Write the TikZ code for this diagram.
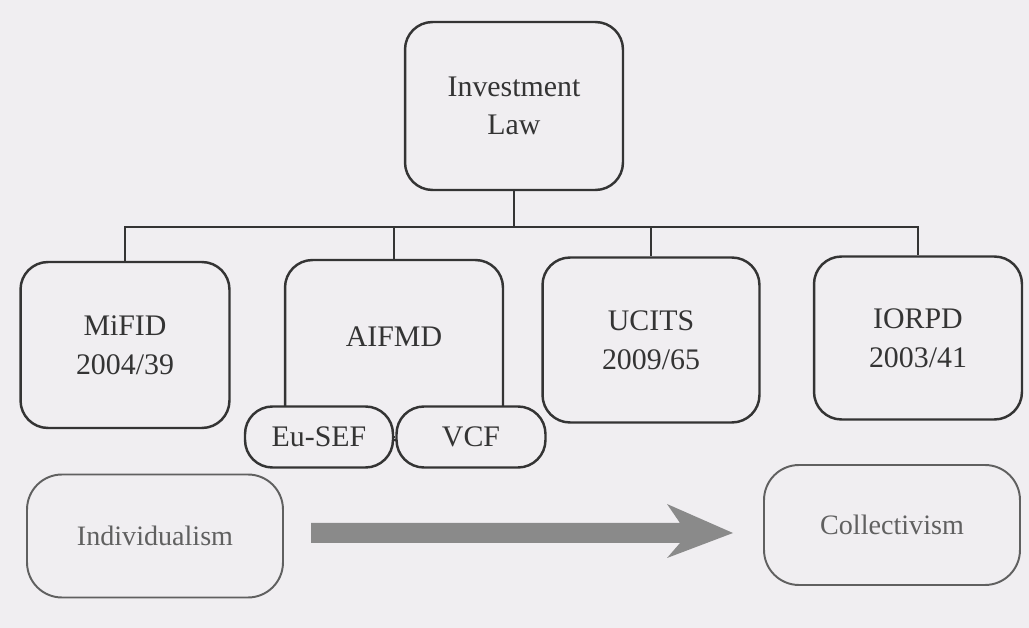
\documentclass[tikz,border=0pt]{standalone}
\usepackage{fontspec}
\setmainfont{Liberation Serif}
\usetikzlibrary{arrows.meta}
\definecolor{paper}{RGB}{240,238,241}
\definecolor{ink}{RGB}{52,52,52}
\definecolor{pale}{RGB}{96,96,96}
\definecolor{shaft}{RGB}{138,138,138}
\tikzset{
  law/.style={draw=ink,line width=1.4pt,rounded corners=0.55cm,fill=paper,text=ink,
    inner sep=0pt,align=center,font=\fontsize{17}{22}\selectfont},
  soft/.style={draw=pale,line width=1.1pt,rounded corners=0.7cm,fill=paper,text=pale,
    inner sep=0pt,minimum width=5.12cm,font=\fontsize{16}{20}\selectfont},
  bigarrow/.style={draw=none,fill=shaft}
}

\begin{document}
\begin{tikzpicture}[x=0.02cm,y=-0.02cm]
\fill[paper] (0,0) rectangle (1029,628);
\useasboundingbox (0,0) rectangle (1029,628);
\node[law,minimum width=4.36cm,minimum height=3.36cm] (invlaw) at (514,106) {Investment\\Law};
\node[law,minimum width=4.18cm,minimum height=3.32cm] (mifid) at (125,345) {MiFID\\2004/39};
\node[law,minimum width=4.36cm,minimum height=3.6cm,
  label={[text=ink,font=\fontsize{17}{22}\selectfont,yshift=0.26cm]center:AIFMD}] (aifmd) at (394,350) {};
\node[law,minimum width=4.34cm,minimum height=3.3cm] (ucits) at (651,340) {UCITS\\2009/65};
\node[law,minimum width=4.16cm,minimum height=3.26cm] (iorpd) at (918,338) {IORPD\\2003/41};
\node[law,minimum width=2.96cm,minimum height=1.22cm] (eusef) at (319,437) {Eu-SEF};
\node[law,minimum width=2.98cm,minimum height=1.22cm] (vcf) at (471,437) {VCF};
\draw[ink,line width=1.4pt] (eusef.east) -- (vcf.west);
\draw[ink,line width=1.4pt] (invlaw.south) -- ++(0,36) coordinate (bus);
\draw[ink,line width=1.4pt] (mifid.north) |- (bus) -| (iorpd.north);
\draw[ink,line width=1.4pt] (aifmd.north) -- (aifmd.north |- bus);
\draw[ink,line width=1.4pt] (ucits.north) -- (ucits.north |- bus);
\node[soft,minimum height=2.46cm] (indiv) at (155,536) {Individualism};
\node[soft,minimum height=2.4cm] (coll) at (892,525) {Collectivism};
\coordinate (a0) at (311,533);
\coordinate (a1) at (733,533);
\fill[bigarrow] (a0) ++(0,-10) -- ++(369,0) -- ++(-13,-19) -- (a1) -- ++(-66,25)
  -- ++(13,-15) -- ++(-369,0) -- cycle;
\end{tikzpicture}
\end{document}
